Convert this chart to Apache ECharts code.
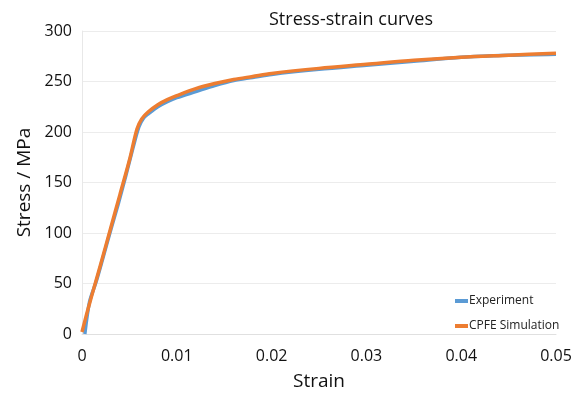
<!DOCTYPE html>
<html><head><meta charset="utf-8">
<script src="https://cdn.jsdelivr.net/npm/echarts@6/dist/echarts.min.js"></script>
<style>html,body{margin:0;padding:0;background:#fff}#c{width:582px;height:396px}</style>
</head><body><div id="c"></div>
<script>
const expStrain = [0.0003,0.0008,0.0015,0.0022,0.003,0.0038,0.0046,0.0054,0.006,0.0065,0.007,0.008,0.009,0.010,0.012,0.014,0.016,0.018,0.020,0.025,0.030,0.035,0.040,0.045,0.050];
const expStress = [0,32,52,75,102,128,156,185,205,214,218,225,230,234,240,246,251,254,257,262,266,270,274,276,277];
const simStrain = [0,0.0005,0.001,0.002,0.003,0.004,0.005,0.0058,0.0063,0.007,0.008,0.009,0.010,0.012,0.014,0.016,0.018,0.020,0.025,0.030,0.035,0.040,0.045,0.050];
const simStress = [2,20,37,70,104,138,172,203,213,220,227,232,236,243,248,252,255,258,263,267,271,274,276,278];
const xTicks = ['0','0.01','0.02','0.03','0.04','0.05'];
const seriesNames = ['Experiment','CPFE Simulation'];

const font = 'Open Sans';
const chart = echarts.init(document.getElementById('c'));
chart.setOption({
  animation:false,
  title:{text:'Stress-strain curves',left:346,top:6,textAlign:'center',
    textStyle:{fontFamily:font,fontSize:18,fontWeight:'normal',color:'#111'}},
  grid:{left:82,right:26,top:31,bottom:58},
  legend:{orient:'vertical',left:450,top:290,itemGap:13,icon:'rect',itemWidth:13,itemHeight:4,
    textStyle:{fontFamily:font,fontSize:12,color:'#222',padding:[0,0,0,-4]},
    data:seriesNames},
  xAxis:{type:'value',min:0,max:0.05,interval:0.01,
    axisLine:{lineStyle:{color:'#e0e0e0'}},axisTick:{show:false},splitLine:{show:false},
    axisLabel:{fontFamily:font,fontSize:16,color:'#111',margin:14,
      formatter:(v)=>xTicks[Math.round(v/0.01)]},
    name:'Strain',nameLocation:'middle',nameGap:38,
    nameTextStyle:{fontFamily:font,fontSize:19,color:'#111'}},
  yAxis:{type:'value',min:0,max:300,interval:50,
    axisLine:{show:true,lineStyle:{color:'#e8e8e8'}},axisTick:{show:false},
    splitLine:{lineStyle:{color:'#ececec'}},
    axisLabel:{fontFamily:font,fontSize:16,color:'#111',margin:10},
    name:'Stress / MPa',nameLocation:'middle',nameGap:48,
    nameTextStyle:{fontFamily:font,fontSize:19,color:'#111'}},
  series:[
    {name:seriesNames[0],type:'line',showSymbol:false,smooth:0.3,
      data:expStrain.map((s,i)=>[s,expStress[i]]),
      itemStyle:{color:'#5B9BD5'},lineStyle:{color:'#5B9BD5',width:3.5}},
    {name:seriesNames[1],type:'line',showSymbol:false,smooth:0.3,
      data:simStrain.map((s,i)=>[s,simStress[i]]),
      itemStyle:{color:'#ED7D31'},lineStyle:{color:'#ED7D31',width:3.5}}
  ]
});
</script></body></html>
